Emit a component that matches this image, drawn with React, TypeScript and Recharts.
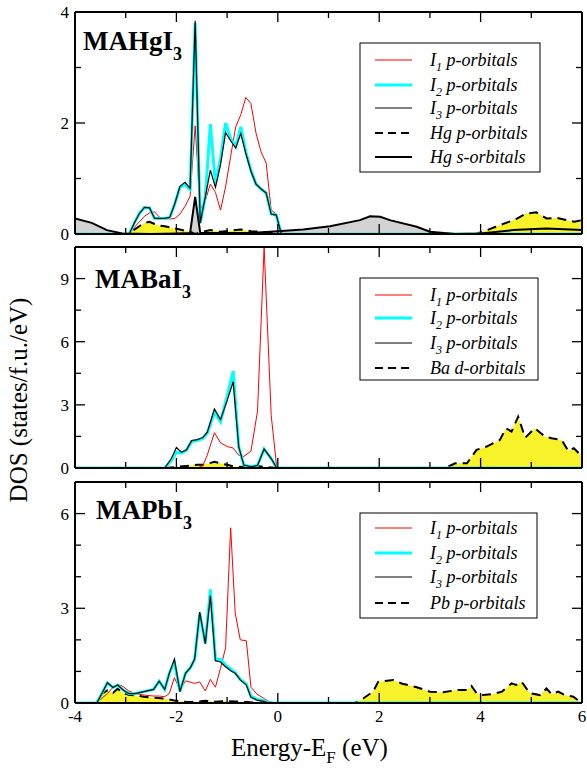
import { ComposedChart, Line, Area, XAxis, YAxis } from 'recharts';

const FONT = '"Liberation Serif", "Times New Roman", serif';
const YELLOW = '#f7f22a';

// x axis (energy, eV)
const xTicks = [-4, -3, -2, -1, 0, 1, 2, 3, 4, 5, 6];
const xMajors = [-4, -2, 0, 2, 4, 6];

// ---- MAHgI3 ----
const hgEnergy = [-4, -2.93, -2.83, -2.73, -2.63, -2.53, -2.43, -2.33, -2.23, -2.13, -2.03, -1.93, -1.83, -1.73, -1.63, -1.53, -1.43, -1.33, -1.23, -1.13, -1.03, -0.93, -0.83, -0.73, -0.63, -0.53, -0.43, -0.33, -0.23, -0.13, -0.03, 0.07, 6];
const hgI1 = [0, 0, 0.12, 0.22, 0.32, 0.38, 0.4, 0.3, 0.28, 0.27, 0.28, 0.36, 0.5, 0.68, 1.95, 0.45, 0.6, 0.9, 0.75, 0.43, 0.85, 1.4, 1.93, 2.15, 2.46, 2.35, 1.82, 1.48, 1.28, 0.43, 0.36, 0, 0];
const hgI2 = [0, 0, 0.2, 0.37, 0.48, 0.47, 0.28, 0.28, 0.28, 0.3, 0.55, 0.84, 0.89, 0.8, 3.8, 0.19, 0.67, 1.98, 0.9, 1.35, 2.0, 1.72, 1.58, 1.93, 1.48, 1.15, 0.9, 0.81, 0.74, 0.36, 0.34, 0, 0];
const hgI3 = [0, 0, 0.2, 0.37, 0.48, 0.47, 0.28, 0.28, 0.28, 0.3, 0.55, 0.86, 0.93, 0.82, 3.84, 0.2, 0.67, 1.15, 0.84, 1.25, 1.83, 1.68, 1.55, 1.81, 1.45, 1.13, 0.9, 0.81, 0.74, 0.36, 0.34, 0, 0];
const hgPEnergy = [-4, -2.93, -2.83, -2.73, -2.63, -2.53, -2.43, -2.33, -2.23, -2.13, -2.03, -1.93, -1.83, -1.73, -1.63, -1.53, -1.33, -1.13, -0.93, -0.73, -0.53, -0.33, -0.13, 0.07, 3.9, 4.1, 4.3, 4.5, 4.7, 4.9, 5.1, 5.3, 5.5, 5.7, 5.85, 6];
const hgP = [0, 0, 0.08, 0.14, 0.2, 0.22, 0.18, 0.15, 0.14, 0.12, 0.1, 0.08, 0.06, 0.04, 0, 0.03, 0.07, 0.04, 0.06, 0.08, 0.05, 0.04, 0.02, 0, 0, 0.06, 0.13, 0.2, 0.27, 0.37, 0.39, 0.28, 0.29, 0.25, 0.22, 0.25];
const hgSEnergy = [-4, -3.67, -3.37, -3.07, -2.5, -2.0, -1.73, -1.63, -1.53, -1.0, -0.5, 0, 0.5, 1.03, 1.62, 1.82, 2.02, 2.21, 2.74, 3.0, 3.5, 4.0, 4.64, 5.3, 6];
const hgS = [0.28, 0.2, 0.07, 0.01, 0, 0.01, 0.02, 0.67, 0.02, 0.02, 0.02, 0.05, 0.08, 0.14, 0.25, 0.32, 0.31, 0.25, 0.13, 0.04, 0, 0.01, 0.07, 0.1, 0.07];

// ---- MABaI3 ----
const baEnergy = [-4, -2.23, -2.1, -2.0, -1.9, -1.8, -1.7, -1.59, -1.48, -1.39, -1.25, -1.13, -1.0, -0.88, -0.77, -0.67, -0.53, -0.4, -0.27, -0.13, -0.02, 6];
const baI1 = [0, 0, 0, 0, 0, 0, 0, 0, 0.1, 0.62, 1.68, 1.2, 1.02, 0.95, 0.6, 0.55, 0.8, 2.7, 10.5, 2.5, 0, 0];
const baI2 = [0, 0, 0.35, 0.75, 0.7, 0.85, 1.25, 1.3, 1.4, 1.65, 2.65, 2.2, 3.4, 4.6, 1.0, 0.14, 0.06, 0.12, 0.9, 0.45, 0, 0];
const baI3 = [0, 0, 0.45, 0.97, 0.75, 0.86, 1.3, 1.35, 1.45, 1.7, 2.8, 2.3, 3.2, 4.1, 1.0, 0.14, 0.06, 0.12, 0.9, 0.45, 0, 0];
const baDEnergy = [-4, -2.23, -2.0, -1.8, -1.59, -1.48, -1.39, -1.25, -1.13, -1.0, -0.88, -0.77, -0.53, -0.4, -0.27, -0.02, 3.3, 3.5, 3.73, 3.92, 4.12, 4.38, 4.5, 4.61, 4.74, 4.88, 5.07, 5.27, 5.4, 5.6, 5.73, 5.84, 6];
const baD = [0, 0, 0.05, 0.1, 0.15, 0.15, 0.2, 0.3, 0.22, 0.15, 0.08, 0.05, 0.08, 0.1, 0.05, 0, 0, 0.22, 0.22, 0.86, 1.02, 1.33, 1.89, 1.73, 2.44, 1.44, 1.89, 1.49, 1.41, 1.33, 0.81, 0.94, 0.54];

// ---- MAPbI3 ----
const pbEnergy = [-4, -3.57, -3.47, -3.36, -3.25, -3.16, -3.05, -2.94, -2.81, -2.64, -2.45, -2.34, -2.23, -2.14, -2.04, -1.93, -1.82, -1.72, -1.64, -1.54, -1.43, -1.33, -1.23, -1.13, -1.03, -0.93, -0.84, -0.74, -0.62, -0.53, -0.41, -0.28, -0.18, -0.05, 6];
const pbI1 = [0, 0, 0.15, 0.3, 0.5, 0.6, 0.52, 0.38, 0.3, 0.25, 0.22, 0.22, 0.2, 0.3, 0.8, 0.42, 0.7, 0.66, 0.62, 0.67, 0.38, 0.75, 0.5, 1.1, 1.75, 5.55, 2.85, 2.0, 1.97, 0.5, 0.28, 0.15, 0.05, 0, 0];
const pbI2 = [0, 0, 0.3, 0.64, 0.49, 0.57, 0.41, 0.3, 0.3, 0.36, 0.43, 0.69, 0.43, 0.94, 1.3, 0.36, 0.94, 1.13, 1.39, 2.85, 1.88, 3.6, 1.4, 1.38, 1.2, 1.08, 0.96, 0.75, 0.6, 0.22, 0.12, 0.07, 0, 0, 0];
const pbI3 = [0, 0, 0.3, 0.64, 0.49, 0.57, 0.41, 0.3, 0.3, 0.36, 0.43, 0.69, 0.43, 0.94, 1.39, 0.36, 0.94, 1.13, 1.39, 2.88, 1.88, 3.4, 1.34, 1.3, 1.15, 1.02, 0.94, 0.73, 0.57, 0.18, 0.09, 0.05, 0, 0, 0];
const pbPEnergy = [-4, -3.57, -3.47, -3.36, -3.25, -3.16, -3.05, -2.94, -2.81, -2.64, -2.45, -2.23, -2.04, -1.82, -1.64, -1.43, -1.23, -1.03, -0.84, -0.62, -0.41, -0.18, 1.52, 1.69, 1.88, 1.98, 2.11, 2.28, 2.44, 2.74, 3.0, 3.26, 3.53, 3.73, 3.82, 3.92, 4.05, 4.22, 4.42, 4.61, 4.7, 4.81, 4.97, 5.17, 5.3, 5.4, 5.53, 5.66, 5.83, 5.96, 6];
const pbP = [0, 0, 0.3, 0.4, 0.32, 0.45, 0.32, 0.26, 0.24, 0.2, 0.17, 0.14, 0.08, 0.04, 0.03, 0.07, 0.04, 0.06, 0.05, 0.03, 0.01, 0, 0, 0.15, 0.36, 0.67, 0.7, 0.73, 0.62, 0.5, 0.36, 0.34, 0.41, 0.41, 0.54, 0.31, 0.25, 0.28, 0.36, 0.62, 0.57, 0.67, 0.31, 0.25, 0.46, 0.28, 0.36, 0.25, 0.2, 0.04, 0];

const toPoints = (xs: number[], ys: number[]) => xs.map((e, i) => ({ e, v: ys[i] }));

const tickStroke = { stroke: '#000', strokeWidth: 1.3 };

const bottomTick = (labels: boolean) => (p: any) => {
  const major = xMajors.includes(p.payload.value);
  return (
    <g>
      <line x1={p.x} x2={p.x} y1={p.y} y2={p.y - (major ? 10 : 6)} {...tickStroke} />
      {labels && major && (
        <text x={p.x} y={p.y + 19} textAnchor="middle" fontFamily={FONT} fontSize={17} fill="#000">
          {p.payload.value}
        </text>
      )}
    </g>
  );
};

const topTick = (p: any) => {
  const major = xMajors.includes(p.payload.value);
  return <line x1={p.x} x2={p.x} y1={p.y} y2={p.y + (major ? 10 : 6)} {...tickStroke} />;
};

const leftTick = (majors: number[]) => (p: any) => {
  const major = majors.includes(p.payload.value);
  return (
    <g>
      <line x1={p.x} x2={p.x + (major ? 10 : 6)} y1={p.y} y2={p.y} {...tickStroke} />
      {major && (
        <text x={p.x - 6} y={p.y} dy="0.35em" textAnchor="end" fontFamily={FONT} fontSize={17} fill="#000">
          {p.payload.value}
        </text>
      )}
    </g>
  );
};

const rightTick = (majors: number[]) => (p: any) => {
  const major = majors.includes(p.payload.value);
  return <line x1={p.x} x2={p.x - (major ? 10 : 6)} y1={p.y} y2={p.y} {...tickStroke} />;
};

const frameLine = { stroke: '#000', strokeWidth: 2 };

function frameAxes(yMax: number, yTicks: number[], yMajors: number[], labels: boolean, bottomH: number) {
  return [
    <XAxis key="xb" dataKey="e" type="number" domain={[-4, 6]} ticks={xTicks} interval={0} allowDataOverflow
      height={bottomH} tickSize={0} tickMargin={0} tickLine={false} axisLine={frameLine} tick={bottomTick(labels)} />,
    <XAxis key="xt" xAxisId="top" orientation="top" dataKey="e" type="number" domain={[-4, 6]} ticks={xTicks} interval={0}
      allowDataOverflow height={2} tickSize={0} tickMargin={0} tickLine={false} axisLine={frameLine} tick={topTick} />,
    <YAxis key="yl" type="number" domain={[0, yMax]} ticks={yTicks} interval={0} allowDataOverflow width={75}
      tickSize={0} tickMargin={0} tickLine={false} axisLine={frameLine} tick={leftTick(yMajors)} />,
    <YAxis key="yr" yAxisId="right" orientation="right" type="number" domain={[0, yMax]} ticks={yTicks} interval={0}
      allowDataOverflow width={5} tickSize={0} tickMargin={0} tickLine={false} axisLine={frameLine} tick={rightTick(yMajors)} />,
  ];
}

function iLines(xs: number[], i1: number[], i2: number[], i3: number[]) {
  return [
    <Line key="i1" data={toPoints(xs, i1)} dataKey="v" stroke="#ff0000" strokeWidth={1} dot={false} isAnimationActive={false} />,
    <Line key="i2" data={toPoints(xs, i2)} dataKey="v" stroke="#00ffff" strokeWidth={3} dot={false} isAnimationActive={false} />,
    <Line key="i3" data={toPoints(xs, i3)} dataKey="v" stroke="#000" strokeWidth={1.2} dot={false} isAnimationActive={false} />,
  ];
}

function dashedArea(xs: number[], ys: number[]) {
  return (
    <Area key="d" data={toPoints(xs, ys)} dataKey="v" type="linear" stroke="#000" strokeWidth={2} strokeDasharray="9 6"
      fill={YELLOW} fillOpacity={1} dot={false} isAnimationActive={false} />
  );
}

type LegendItem = { main: string; sub?: string; rest: string; color: string; width: number; dash?: string };

const lbl = (main: string, sub: string | undefined, rest: string) => ({ main, sub, rest });
const hgLegend: LegendItem[] = [
  { ...lbl('I', '1', ' p-orbitals'), color: '#ff0000', width: 1 },
  { ...lbl('I', '2', ' p-orbitals'), color: '#00ffff', width: 3 },
  { ...lbl('I', '3', ' p-orbitals'), color: '#000', width: 1 },
  { ...lbl('Hg p-orbitals', undefined, ''), color: '#000', width: 2, dash: '8 5' },
  { ...lbl('Hg s-orbitals', undefined, ''), color: '#000', width: 2 },
];
const baLegend: LegendItem[] = [...hgLegend.slice(0, 3), { ...lbl('Ba d-orbitals', undefined, ''), color: '#000', width: 2, dash: '8 5' }];
const pbLegend: LegendItem[] = [...hgLegend.slice(0, 3), { ...lbl('Pb p-orbitals', undefined, ''), color: '#000', width: 2, dash: '8 5' }];

function LegendBox({ x, y, w, h, rows, items }: { x: number; y: number; w: number; h: number; rows: number[]; items: LegendItem[] }) {
  return (
    <g>
      <rect x={x} y={y} width={w} height={h} fill="#fff" stroke="#000" strokeWidth={1} />
      {items.map((it, i) => (
        <g key={i}>
          <line x1={375} x2={412} y1={rows[i]} y2={rows[i]} stroke={it.color} strokeWidth={it.width} strokeDasharray={it.dash} />
          <text x={430} y={rows[i] + 6} fontFamily={FONT} fontStyle="italic" fontSize={18} fill="#000">
            {it.main}
            {it.sub && <tspan dy={5} fontSize={12}>{it.sub}</tspan>}
            {it.sub && <tspan dy={-5}>{it.rest}</tspan>}
          </text>
        </g>
      ))}
    </g>
  );
}

function Title({ x, y, name }: { x: number; y: number; name: string }) {
  return (
    <text x={x} y={y} fontFamily={FONT} fontWeight="bold" fontSize={27} fill="#000">
      {name}
      <tspan dy={10} fontSize={18}>3</tspan>
    </text>
  );
}

function Panel({ top, height, marginTop, bottomH, yMax, yTicks, yMajors, labels, children }: any) {
  return (
    <div style={{ position: 'absolute', left: 0, top }}>
      <ComposedChart width={587} height={height} margin={{ top: marginTop, right: 0, bottom: 0, left: 0 }}>
        {children}
        {frameAxes(yMax, yTicks, yMajors, labels, bottomH)}
      </ComposedChart>
    </div>
  );
}

export default function App() {
  return (
    <div style={{ position: 'absolute', left: 0, top: 0, width: 587, height: 770, background: '#fff' }}>
      <Panel top={0} height={246} marginTop={10} bottomH={12} yMax={4} yTicks={[0, 1, 2, 3, 4]} yMajors={[0, 2, 4]} labels={false}>
        {[
          <Area key="sfill" data={toPoints(hgSEnergy, hgS)} dataKey="v" type="linear" stroke="none" fill="#d3d3d3" fillOpacity={1} isAnimationActive={false} />,
          dashedArea(hgPEnergy, hgP),
          ...iLines(hgEnergy, hgI1, hgI2, hgI3),
          <Line key="s" data={toPoints(hgSEnergy, hgS)} dataKey="v" stroke="#000" strokeWidth={2} dot={false} isAnimationActive={false} />,
        ]}
      </Panel>
      <Panel top={240} height={241} marginTop={5} bottomH={13} yMax={10.5} yTicks={[0, 1.5, 3, 4.5, 6, 7.5, 9]} yMajors={[0, 3, 6, 9]} labels={false}>
        {[dashedArea(baDEnergy, baD), ...iLines(baEnergy, baI1, baI2, baI3)]}
      </Panel>
      <Panel top={475} height={295} marginTop={5} bottomH={67} yMax={7} yTicks={[0, 1, 2, 3, 4, 5, 6]} yMajors={[0, 3, 6]} labels={true}>
        {[dashedArea(pbPEnergy, pbP), ...iLines(pbEnergy, pbI1, pbI2, pbI3)]}
      </Panel>

      <svg width={587} height={770} style={{ position: 'absolute', left: 0, top: 0, pointerEvents: 'none' }}>
        <Title x={83} y={50} name="MAHgI" />
        <Title x={95} y={288} name="MABaI" />
        <Title x={96} y={519} name="MAPbI" />
        <LegendBox x={360} y={43} w={180} h={129} rows={[60, 85, 108, 133, 157]} items={hgLegend} />
        <LegendBox x={360} y={278} w={178} h={102} rows={[295, 318, 343, 368]} items={baLegend} />
        <LegendBox x={360} y={513} w={177} h={105} rows={[528, 553, 577, 603]} items={pbLegend} />
        <text transform="translate(27, 400) rotate(-90)" textAnchor="middle" fontFamily={FONT} fontSize={25} fill="#000">
          DOS (states/f.u./eV)
        </text>
        <text x={231} y={756} fontFamily={FONT} fontSize={25} fill="#000">
          Energy-E<tspan dy={7} fontSize={17}>F</tspan>
          <tspan dy={-7}> (eV)</tspan>
        </text>
      </svg>
    </div>
  );
}
